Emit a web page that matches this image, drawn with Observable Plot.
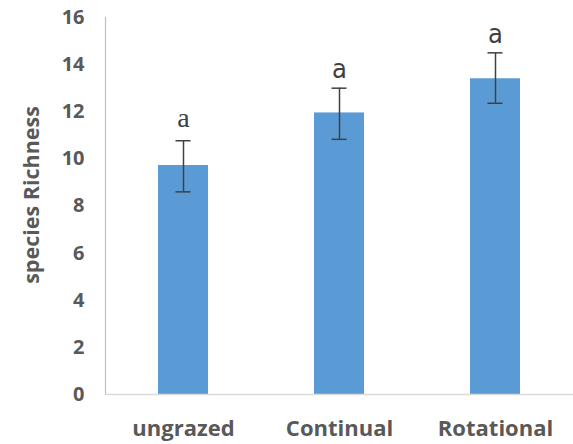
<!DOCTYPE html>
<html>
<head>
<meta charset="utf-8">
<script src="https://cdn.jsdelivr.net/npm/d3@7"></script>
<script src="https://cdn.jsdelivr.net/npm/@observablehq/plot@0.6"></script>
<style>
  html, body { margin: 0; padding: 0; background: #fff; }
  #chart svg { display: block; }
</style>
</head>
<body>
<div id="chart"></div>
<script>
const categories = ["ungrazed", "Continual", "Rotational"];
const richness = [9.72, 11.95, 13.4];
const errLow = [8.6, 10.83, 12.36];
const errHigh = [10.77, 13.0, 14.5];
const letters = ["a", "a", "a"];
const yTicks = [0, 2, 4, 6, 8, 10, 12, 14, 16];
const yTitle = "species Richness";

const data = categories.map((c, i) => ({
  cat: c, value: richness[i], lo: errLow[i], hi: errHigh[i], letter: letters[i], i
}));

const chart = Plot.plot({
  width: 573,
  height: 444,
  marginLeft: 105,
  marginRight: 0,
  marginTop: 17,
  marginBottom: 50,
  style: { background: "#fff", overflow: "visible" },
  x: { domain: categories, paddingInner: 0.68, paddingOuter: 0.34, label: null },
  y: { domain: [0, 16], label: null },
  marks: [
    Plot.barY(data, { x: "cat", y: "value", fill: "#5b9bd5" }),
    Plot.frame({ anchor: "left", stroke: "#bfbfbf", strokeWidth: 1.2 }),
    Plot.ruleY([0], { stroke: "#d9d9d9", strokeWidth: 1.5 }),
    Plot.axisY({
      ticks: yTicks, tickSize: 0, tickPadding: 21,
      fill: "#595959",
      fontSize: 20, fontWeight: "bold", fontFamily: "Open Sans",
      label: null
    }),
    Plot.text([yTitle], {
      frameAnchor: "left", textAnchor: "middle", dx: -73, dy: -11, rotate: -90, text: d => d,
      fontSize: 21.5, fontWeight: "bold", fontFamily: "Open Sans", fill: "#595959"
    }),
    Plot.axisX({
      tickSize: 0, tickPadding: 26, fill: "#595959",
      fontSize: 22, fontWeight: "bold", fontFamily: "Open Sans", label: null
    }),
    Plot.ruleX(data, { x: "cat", y1: "lo", y2: "hi", stroke: "#404040", strokeWidth: 1.5 }),
    Plot.tickY(data, { x: "cat", y: "lo", stroke: "#404040", strokeWidth: 1.5, insetLeft: 17.5, insetRight: 17.5 }),
    Plot.tickY(data, { x: "cat", y: "hi", stroke: "#404040", strokeWidth: 1.5, insetLeft: 17.5, insetRight: 17.5 }),
    Plot.text(data, {
      filter: d => d.i === 0, x: "cat", y: "hi", text: "letter",
      dy: -14, lineAnchor: "bottom", fontSize: 28, fontFamily: "Liberation Serif", fill: "#404040"
    }),
    Plot.text(data, {
      filter: d => d.i !== 0, x: "cat", y: "hi", text: "letter",
      dy: -10, lineAnchor: "bottom", fontSize: 27, fontFamily: "'Liberation Sans Narrow', 'DejaVu Sans Condensed', sans-serif", fill: "#404040"
    })
  ]
});
document.getElementById("chart").appendChild(chart);
</script>
</body>
</html>
